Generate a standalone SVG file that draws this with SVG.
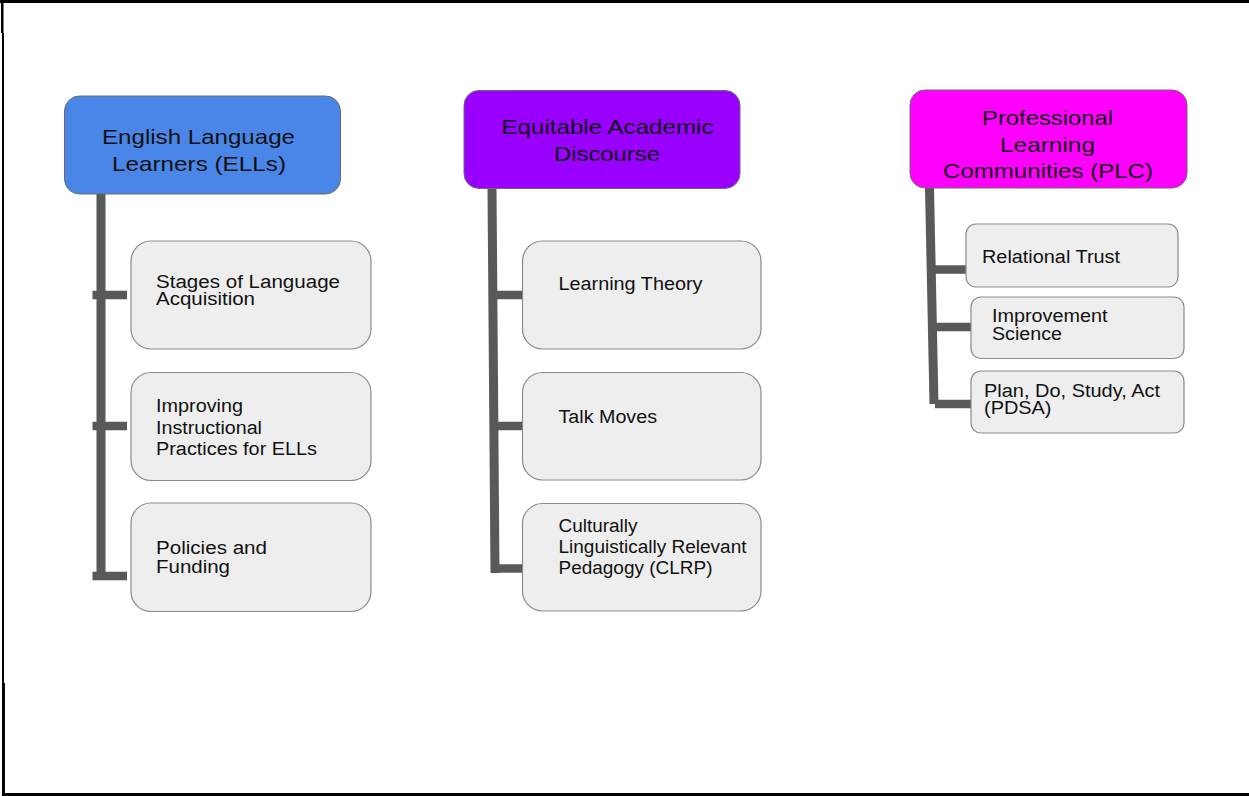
<svg xmlns="http://www.w3.org/2000/svg" width="1249" height="796" viewBox="0 0 1249 796">
  <style>
    .hdr { stroke: #6b6b6b; stroke-width: 1; }
    .child { fill: #eeeeee; stroke: #8a8a8a; stroke-width: 1.2; }
    .ht { font-family: "Liberation Sans", Arial, sans-serif; font-size: 21px; fill: #111111; }
    .ct { font-family: "Liberation Sans", Arial, sans-serif; font-size: 18px; fill: #111111; }
    .conn { stroke: #595959; stroke-width: 9; fill: none; stroke-linecap: butt; }
    .br { stroke: #595959; stroke-width: 8.5; fill: none; stroke-linecap: butt; }
    .frame { fill: #000000; }
  </style>
  <rect x="0" y="0" width="1249" height="796" fill="#ffffff"/>
  <g id="frame">
    <rect class="frame" x="0" y="0" width="1249" height="3"/>
    <rect class="frame" x="1" y="0" width="2.5" height="33"/>
    <rect class="frame" x="2" y="33" width="2" height="650"/>
    <rect class="frame" x="2" y="683" width="3" height="113"/>
    <rect class="frame" x="2" y="793" width="1247" height="3"/>
  </g>
  <g id="connectors">
    <line class="conn" x1="101" y1="194" x2="101" y2="580"/>
    <line class="br" x1="92.5" y1="295" x2="127" y2="295"/>
    <line class="br" x1="92.5" y1="426" x2="127" y2="426"/>
    <line class="br" x1="92.5" y1="576" x2="127" y2="576"/>
    <line class="conn" x1="492" y1="188" x2="495" y2="573"/>
    <line class="br" x1="492" y1="295" x2="525" y2="295"/>
    <line class="br" x1="493" y1="426" x2="525" y2="426"/>
    <line class="br" x1="491" y1="568.5" x2="525" y2="568.5"/>
    <line class="conn" x1="929.5" y1="188" x2="934" y2="404"/>
    <line class="br" x1="932" y1="269.5" x2="969" y2="269.5"/>
    <line class="br" x1="932" y1="327" x2="972" y2="327"/>
    <line class="br" x1="935" y1="404" x2="972" y2="404"/>
  </g>
  <g id="ell">
    <rect class="hdr" x="64.5" y="96" width="276" height="98" rx="15" fill="#4a86e8"/>
    <text class="ht" x="102" y="143.5" textLength="193" lengthAdjust="spacingAndGlyphs">English Language</text>
    <text class="ht" x="112" y="170.5" textLength="174" lengthAdjust="spacingAndGlyphs">Learners (ELLs)</text>
  </g>
  <g id="ell-stages">
    <rect class="child" x="131" y="241" width="240" height="108" rx="20"/>
    <text class="ct" x="156" y="287.5" textLength="184" lengthAdjust="spacingAndGlyphs">Stages of Language</text>
    <text class="ct" x="156" y="305" textLength="99" lengthAdjust="spacingAndGlyphs">Acquisition</text>
  </g>
  <g id="ell-improving">
    <rect class="child" x="131" y="372.5" width="240" height="108" rx="20"/>
    <text class="ct" x="156" y="411.5" textLength="87" lengthAdjust="spacingAndGlyphs">Improving</text>
    <text class="ct" x="156" y="433.5" textLength="106" lengthAdjust="spacingAndGlyphs">Instructional</text>
    <text class="ct" x="156" y="455" textLength="161" lengthAdjust="spacingAndGlyphs">Practices for ELLs</text>
  </g>
  <g id="ell-policies">
    <rect class="child" x="131" y="503" width="240" height="108.5" rx="20"/>
    <text class="ct" x="156" y="554" textLength="111" lengthAdjust="spacingAndGlyphs">Policies and</text>
    <text class="ct" x="156" y="572.5" textLength="74" lengthAdjust="spacingAndGlyphs">Funding</text>
  </g>
  <g id="ead">
    <rect class="hdr" x="464" y="90.5" width="276" height="98" rx="15" fill="#9900ff"/>
    <text class="ht" x="501.5" y="133.5" textLength="212" lengthAdjust="spacingAndGlyphs">Equitable Academic</text>
    <text class="ht" x="554" y="160.5" textLength="106" lengthAdjust="spacingAndGlyphs">Discourse</text>
  </g>
  <g id="ead-learning">
    <rect class="child" x="522.5" y="241" width="238.5" height="108" rx="20"/>
    <text class="ct" x="558.5" y="290" textLength="144" lengthAdjust="spacingAndGlyphs">Learning Theory</text>
  </g>
  <g id="ead-talk">
    <rect class="child" x="522.5" y="372.5" width="238.5" height="107.5" rx="20"/>
    <text class="ct" x="558.5" y="423" textLength="98.5" lengthAdjust="spacingAndGlyphs">Talk Moves</text>
  </g>
  <g id="ead-clrp">
    <rect class="child" x="522.5" y="503.5" width="238.5" height="107.5" rx="20"/>
    <text class="ct" x="558.5" y="532" textLength="79" lengthAdjust="spacingAndGlyphs">Culturally</text>
    <text class="ct" x="558.5" y="553" textLength="188" lengthAdjust="spacingAndGlyphs">Linguistically Relevant</text>
    <text class="ct" x="558.5" y="574" textLength="154" lengthAdjust="spacingAndGlyphs">Pedagogy (CLRP)</text>
  </g>
  <g id="plc">
    <rect class="hdr" x="910" y="90" width="277" height="98" rx="15" fill="#ff00ff"/>
    <text class="ht" x="982" y="125" textLength="131" lengthAdjust="spacingAndGlyphs">Professional</text>
    <text class="ht" x="1000" y="151.5" textLength="95" lengthAdjust="spacingAndGlyphs">Learning</text>
    <text class="ht" x="943" y="178" textLength="210" lengthAdjust="spacingAndGlyphs">Communities (PLC)</text>
  </g>
  <g id="plc-trust">
    <rect class="child" x="966" y="224" width="212" height="63" rx="10"/>
    <text class="ct" x="982" y="263" textLength="138" lengthAdjust="spacingAndGlyphs">Relational Trust</text>
  </g>
  <g id="plc-improvement">
    <rect class="child" x="971" y="297" width="213" height="61.5" rx="10"/>
    <text class="ct" x="992" y="321.5" textLength="115.5" lengthAdjust="spacingAndGlyphs">Improvement</text>
    <text class="ct" x="992" y="339.5" textLength="70" lengthAdjust="spacingAndGlyphs">Science</text>
  </g>
  <g id="plc-pdsa">
    <rect class="child" x="971" y="371" width="213" height="62" rx="10"/>
    <text class="ct" x="984" y="397" textLength="176" lengthAdjust="spacingAndGlyphs">Plan, Do, Study, Act</text>
    <text class="ct" x="984" y="413.5" textLength="67.5" lengthAdjust="spacingAndGlyphs">(PDSA)</text>
  </g>
</svg>
